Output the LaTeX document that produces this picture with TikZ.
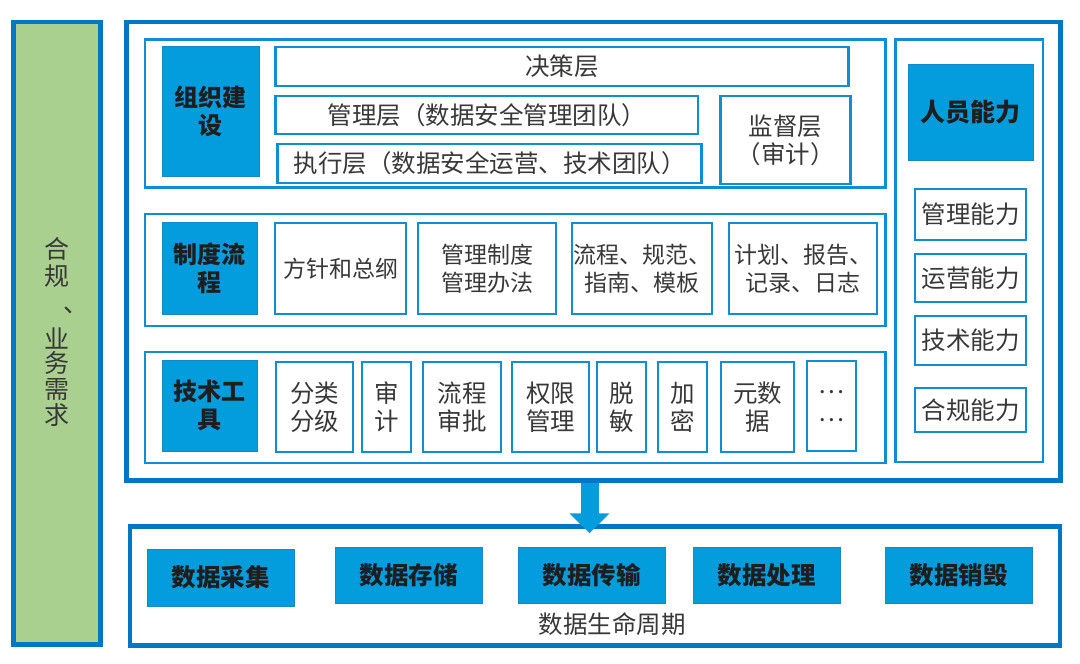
\documentclass[tikz,border=0pt]{standalone}
\usepackage{fontspec}
\setmainfont{Noto Sans CJK SC}
\usetikzlibrary{arrows.meta}
\definecolor{oblue}{HTML}{0077C4}
\definecolor{lblue}{HTML}{108ED4}
\definecolor{fblue}{HTML}{039CDC}
\definecolor{fline}{HTML}{1688C8}
\definecolor{gfill}{HTML}{A9D08E}
\definecolor{txt}{HTML}{383838}
\definecolor{btxt}{HTML}{1E1E1E}
\newcommand\mybox[7]{%
  \pgfmathsetmacro\myCx{(#3+#5)/2}\pgfmathsetmacro\myCy{(#4+#6)/2}%
  \pgfmathsetmacro\myW{#5-#3}\pgfmathsetmacro\myH{#6-#4}%
  \node[#1,minimum width=\myW pt,minimum height=\myH pt] (#2) at (\myCx,\myCy) {#7};}
\begin{document}
\begin{tikzpicture}[x=1pt,y=-1pt,
  frame/.style={draw=oblue,line width=4.5pt,inner sep=0pt},
  gbox/.style={draw=oblue,fill=gfill,line width=4.5pt,inner sep=0pt},
  rowbox/.style={draw=lblue,line width=2.5pt,inner sep=0pt},
  sbox/.style={draw=lblue,line width=2.8pt,fill=white,inner sep=0pt,align=center,text=txt,font=\fontsize{24.5}{28}\selectfont},
  sboxm/.style={sbox,font=\fontsize{23}{28}\selectfont},
  hbox/.style={draw=fline,line width=1pt,fill=fblue,inner sep=0pt,align=center,text=btxt,font=\fontsize{24}{28}\selectfont\bfseries},
  lbox/.style={hbox,font=\fontsize{24.5}{28}\selectfont\bfseries},
  vt/.style={text=txt,font=\fontsize{25}{26}\selectfont,inner sep=0pt}
]
\useasboundingbox (0,0) rectangle (1080,664);
% left compliance column
\mybox{gbox}{green}{13.5}{22}{100.5}{644.5}{}
\node[vt] (c1) at (57,249) {合};
\node[vt] (c2) at (57,276) {规};
\node[vt] (c3) at (76,310) {、};
\node[vt] (c4) at (57,338) {业};
\node[vt] (c5) at (57,363) {务};
\node[vt] (c6) at (57,389) {需};
\node[vt] (c7) at (57,415) {求};
% main frame
\mybox{frame}{main}{126.5}{22}{1060.5}{480.5}{}
\mybox{frame}{life}{130}{526.5}{1060}{645.5}{}
% rows
\mybox{rowbox}{row1}{145}{39.5}{885.5}{187.5}{}
\mybox{rowbox}{row2}{145}{214}{885.5}{326}{}
\mybox{rowbox}{row3}{145}{352}{885.5}{463}{}
\mybox{rowbox}{rcol}{895.5}{39.5}{1043}{462}{}
% headers
\mybox{hbox}{h1}{162}{46}{259}{176}{组织建\\设}
\mybox{hbox}{h2}{162}{222}{257}{314}{制度流\\程}
\mybox{hbox}{h3}{162}{360}{257}{451}{技术工\\具}
\mybox{hbox}{h4}{908}{64}{1033}{160}{\fontsize{25}{28}\selectfont 人员能力}
% row 1
\mybox{sbox}{dec}{275.5}{47}{848.5}{86}{决策层}
\mybox{sbox}{mgt}{275.5}{96}{698}{134}{管理层（数据安全管理团队）}
\mybox{sbox}{exe}{277.5}{144}{701.5}{183}{执行层（数据安全运营、技术团队）}
\mybox{sbox}{sup}{720.5}{96}{850.5}{184}{监督层\\（审计）}
% row 2
\mybox{sboxm}{p1}{275}{223}{406}{314}{方针和总纲}
\mybox{sboxm}{p2}{418}{223}{556}{314}{管理制度\\管理办法}
\mybox{sboxm}{p3}{572}{223}{712}{314}{流程、规范、\\指南、模板}
\mybox{sboxm}{p4}{729}{223}{877}{314}{计划、报告、\\记录、日志}
% row 3
\mybox{sbox}{t1}{276}{362}{353}{452}{分类\\分级}
\mybox{sbox}{t2}{362}{362}{411}{452}{审\\计}
\mybox{sbox}{t3}{423}{362}{501}{452}{流程\\审批}
\mybox{sbox}{t4}{512}{362}{589}{452}{权限\\管理}
\mybox{sbox}{t5}{597}{362}{646}{452}{脱\\敏}
\mybox{sbox}{t6}{658}{362}{707}{452}{加\\密}
\mybox{sbox}{t7}{721}{362}{794}{452}{元数\\据}
\mybox{sbox}{t8}{807}{361}{856}{451}{…\\…}
% right column
\mybox{sbox}{r1}{915}{189}{1026}{240}{管理能力}
\mybox{sbox}{r2}{915}{254}{1026}{302}{运营能力}
\mybox{sbox}{r3}{915}{316}{1026}{365}{技术能力}
\mybox{sbox}{r4}{915}{388}{1026}{432}{合规能力}
% lifecycle
\mybox{lbox}{l1}{147}{549}{294}{606}{数据采集}
\mybox{lbox}{l2}{335}{547}{482}{603}{数据存储}
\mybox{lbox}{l3}{518}{547}{665}{603}{数据传输}
\mybox{lbox}{l4}{693}{547}{840}{603}{数据处理}
\mybox{lbox}{l5}{885}{547}{1032}{603}{数据销毁}
\node[text=txt,font=\fontsize{24.5}{28}\selectfont,inner sep=0pt] (lbl) at (612,624) {数据生命周期};
% arrow
\coordinate (ax) at (589.5,500);
\draw[fblue,line width=18pt,-{Triangle[width=39pt,length=20pt]},shorten >=-9pt] (main.south -| ax) -- (life.north -| ax);
\end{tikzpicture}
\end{document}
